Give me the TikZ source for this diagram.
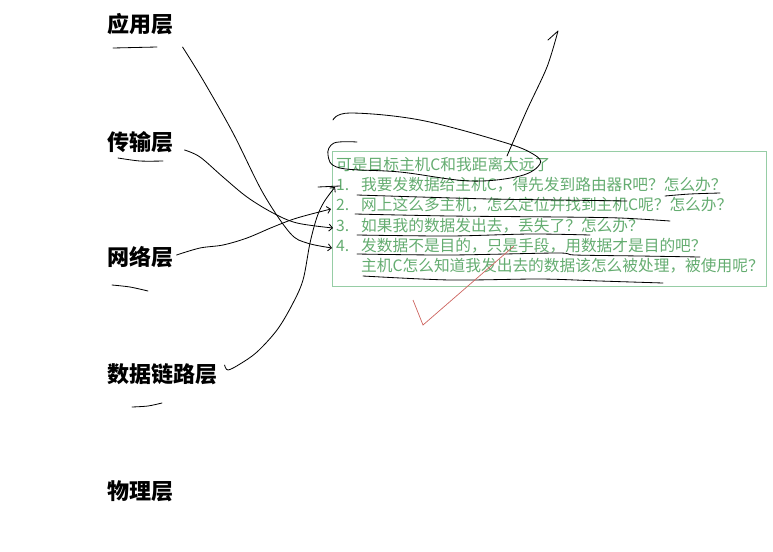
\documentclass[tikz,border=0pt]{standalone}
\usepackage{fontspec}
\newfontfamily\cjk{Noto Sans CJK SC}
\usetikzlibrary{arrows.meta}
\definecolor{notegreen}{RGB}{100,172,112}
\definecolor{boxgreen}{RGB}{150,205,165}
\definecolor{checkred}{RGB}{205,100,95}

\begin{document}
\begin{tikzpicture}[x=0.03cm, y=-0.03cm, >={Straight Barb[length=3pt,width=6pt]},
    layer/.style={anchor=west, inner sep=0pt, font=\cjk\bfseries\fontsize{18.8}{20}\selectfont},
    note/.style={anchor=west, inner sep=0pt, text=notegreen, font=\cjk\fontsize{13.4}{14}\selectfont},
    hand/.style={black, line width=0.7pt, line cap=round, line join=round}]
  \useasboundingbox (0,0) rectangle (773,551);

  % 1. 五层名称与下划线
  \node[layer] (app) at (107,24) {应用层};
  \node[layer] (trans) at (107,142) {传输层};
  \node[layer] (net) at (107,257) {网络层};
  \node[layer] (link) at (107,374) {数据链路层};
  \node[layer] (phy) at (107,491) {物理层};
  \draw[hand] plot[smooth] coordinates {(113,48) (135,47.5) (157,47)};
  \draw[hand] plot[smooth] coordinates {(118,158) (140,161) (163,161)};
  \draw[hand] plot[smooth] coordinates {(112,285) (130,287) (148,291)};
  \draw[hand] plot[smooth] coordinates {(132,407) (148,406) (162,403)};

  % 2. 绿框与问题
  \draw[boxgreen, line width=0.8pt] (332,151) rectangle (766,286);
  \node[note] (title) at (336,164) {可是目标主机C和我距离太远了};
  \node[note] (num1) at (336,185) {1.};
  \node[note] (num2) at (336,205) {2.};
  \node[note] (num3) at (336,226) {3.};
  \node[note] (num4) at (336,246) {4.};
  \node[note] (q1) at (361,185) {我要发数据给主机C，得先发到路由器R吧？怎么办？};
  \node[note] (q2) at (361,205) {网上这么多主机，怎么定位并找到主机C呢？怎么办？};
  \node[note] (q3) at (361,226) {如果我的数据发出去，丢失了？怎么办？};
  \node[note] (q4) at (361,246) {发数据不是目的，只是手段，用数据才是目的吧？};
  \node[note] (q5) at (361,266) {主机C怎么知道我发出去的数据该怎么被处理，被使用呢？};

  % 3. 手画连线：各层指向问题
  \draw[hand,->] plot[smooth, tension=0.55] coordinates {([shift={(9,23)}]app.east) (203,80) (233,133) (263,193) (290,233) (307,243) ([shift={(-4,2)}]num4.west)};
  \draw[hand,->] plot[smooth, tension=0.55] coordinates {([shift={(11,8)}]trans.east) (200,157) (223,177) (247,197) (273,213) (297,223) ([shift={(-3,2)}]num3.west)};
  \draw[hand,->] plot[smooth, tension=0.55] coordinates {([shift={(3,-2)}]net.east) (200,248) (223,245) (247,238) (273,227) (297,218) ([shift={(-5,4)}]num2.west)};
  \draw[hand,->] plot[smooth, tension=0.55] coordinates {([shift={(7,-9)}]link.east) (228,370) (240,364) (257,352) (277,330) (292,305) (303,280) (310,243) (317,217) (324,202) ([shift={(-1,2)}]num1.west)};
  \draw[hand] (318,187) -- ([shift={(4,1)}]num1.west);

  % 4. 圈住标题并引出箭头
  \draw[hand] plot[smooth, tension=0.6] coordinates {(357,142) (334,143) (328,155) (340,168) (400,172) (470,181) (520,176) (540,164) (533,154) (503,142) (420,120) (350,113) (333,120)};
  \draw[hand] plot[smooth, tension=0.5] coordinates {(507,156) (527,110) (547,67) (558,31)} -- (548,40);

  % 5. 问题下划线
  \draw[hand] plot[smooth, tension=0.5] coordinates {(357,195) (420,197) (490,199) (560,200) (627,201)};
  \draw[hand] plot[smooth, tension=0.5] coordinates {(665,196) (690,194) (720,193)};
  \draw[hand] plot[smooth, tension=0.5] coordinates {(355,214) (450,216) (560,217) (620,218) (670,221)};
  \draw[hand] plot[smooth, tension=0.5] coordinates {(357,235) (450,236) (530,234) (590,235)};
  \draw[hand] plot[smooth, tension=0.5] coordinates {(357,254) (450,255) (557,253) (575,255) (640,256) (700,257)};
  \draw[hand] plot[smooth, tension=0.5] coordinates {(363,276) (450,280) (540,279) (600,281) (663,283)};

  % 6. 红色对勾
  \draw[checkred, line width=0.6pt] (413,300) -- (423,325) -- (514,246);
\end{tikzpicture}
\end{document}
